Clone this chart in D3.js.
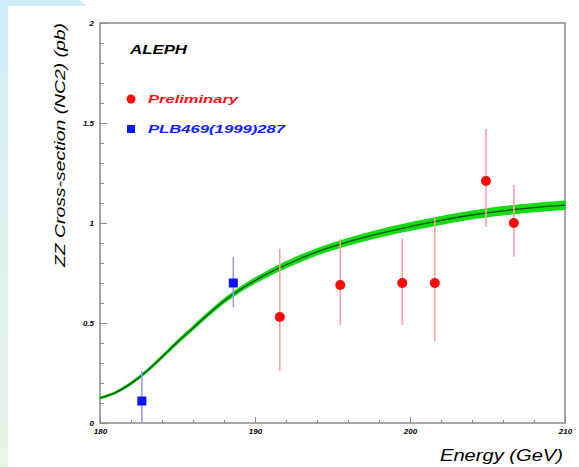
<!DOCTYPE html>
<html>
<head>
<meta charset="utf-8">
<script src="https://cdn.jsdelivr.net/npm/d3@7"></script>
<style>
  html, body { margin: 0; padding: 0; background: #ffffff; }
  svg { display: block; }
  text { font-family: "Liberation Sans", Arial, Helvetica, sans-serif; }
</style>
</head>
<body>
<svg id="chart" width="579" height="467"></svg>
<script>
// Axis ticks
const energyTicks = [180, 190, 200, 210];
const energyMinorTicks = [182, 184, 186, 188, 192, 194, 196, 198, 202, 204, 206, 208];
const xsecTicks = [0, 0.5, 1, 1.5, 2];
const xsecTickLabels = ["0", "0.5", "1", "1.5", "2"];
const xsecMinorTicks = [0.1, 0.2, 0.3, 0.4, 0.6, 0.7, 0.8, 0.9, 1.1, 1.2, 1.3, 1.4, 1.6, 1.7, 1.8, 1.9];

// Preliminary measurements (red)
const prelimEnergy = [191.6, 195.5, 199.5, 201.6, 204.9, 206.7];
const prelimXsec = [0.53, 0.69, 0.70, 0.70, 1.21, 1.00];
const prelimErrUp = [0.34, 0.23, 0.22, 0.33, 0.26, 0.19];
const prelimErrDown = [0.27, 0.20, 0.21, 0.29, 0.23, 0.17];

// Published measurements (blue)
const publishedEnergy = [182.7, 188.6];
const publishedXsec = [0.11, 0.70];
const publishedErrUp = [0.15, 0.13];
const publishedErrDown = [0.15, 0.12];

// Standard Model expectation with its uncertainty band
const curveEnergy = [180, 181, 182, 183, 184, 185, 186, 187, 188, 189, 190, 191, 192, 193, 194, 196, 198, 200, 202, 204, 206, 208, 210];
const curveXsec = [0.125, 0.152, 0.198, 0.258, 0.33, 0.405, 0.475, 0.545, 0.61, 0.665, 0.712, 0.754, 0.791, 0.825, 0.856, 0.906, 0.947, 0.982, 1.013, 1.040, 1.061, 1.077, 1.089];
const curveBand = [0.004, 0.004, 0.005, 0.005, 0.006, 0.007, 0.008, 0.009, 0.010, 0.011, 0.012, 0.013, 0.014, 0.015, 0.015, 0.016, 0.017, 0.018, 0.019, 0.019, 0.020, 0.020, 0.020];

const legendLabels = ["Preliminary", "PLB469(1999)287"];

const svg = d3.select("#chart");

// Decorative page border
const defs = svg.append("defs");
const grad = defs.append("linearGradient").attr("id", "edge").attr("x1", 0).attr("y1", 0).attr("x2", 0).attr("y2", 1);
grad.append("stop").attr("offset", "0%").attr("stop-color", "#cdedf8");
grad.append("stop").attr("offset", "100%").attr("stop-color", "#e8f5e6");
svg.append("path")
  .attr("d", "M0,0 L80,0 L87,6 L8,6 L8,467 L0,467 Z")
  .attr("fill", "url(#edge)");

const x = d3.scaleLinear().domain([180, 210]).range([100, 565]);
const y = d3.scaleLinear().domain([0, 2]).range([423, 23]);

const axisColor = "#8a8a8a";

// Plot frame
svg.append("rect")
  .attr("x", x(180)).attr("y", y(2))
  .attr("width", x(210) - x(180)).attr("height", y(0) - y(2))
  .attr("fill", "none").attr("stroke", axisColor).attr("stroke-width", 1.5);

// Axes with inward ticks
function styleAxis(g) {
  g.select(".domain").remove();
  g.selectAll(".tick line").attr("stroke", axisColor).attr("stroke-width", 1);
  g.selectAll(".tick text")
    .attr("fill", "#000")
    .style("font-size", "8px")
    .style("font-weight", "bold")
    .style("font-style", "italic");
}

svg.append("g")
  .attr("transform", `translate(0,${y(0)})`)
  .call(d3.axisBottom(x).tickValues(energyTicks).tickFormat(d3.format("d")).tickSize(-6).tickPadding(5))
  .call(styleAxis);
svg.append("g")
  .attr("transform", `translate(0,${y(0)})`)
  .call(d3.axisBottom(x).tickValues(energyMinorTicks).tickFormat("").tickSize(-3))
  .call(styleAxis);

svg.append("g")
  .attr("transform", `translate(${x(180)},0)`)
  .call(d3.axisLeft(y).tickValues(xsecTicks).tickFormat((d, i) => xsecTickLabels[i]).tickSize(-7).tickPadding(6))
  .call(styleAxis);
svg.append("g")
  .attr("transform", `translate(${x(180)},0)`)
  .call(d3.axisLeft(y).tickValues(xsecMinorTicks).tickFormat("").tickSize(-4))
  .call(styleAxis);

// Theory band and central curve
const curveData = curveEnergy.map((e, i) => ({ e, v: curveXsec[i], b: curveBand[i] }));
svg.append("path")
  .datum(curveData)
  .attr("d", d3.area().curve(d3.curveMonotoneX)
    .x(d => x(d.e)).y0(d => y(d.v - d.b)).y1(d => y(d.v + d.b)))
  .attr("fill", "#12dd12")
  .attr("stroke", "#12dd12")
  .attr("stroke-width", 1.4);
svg.append("path")
  .datum(curveData)
  .attr("d", d3.line().curve(d3.curveMonotoneX).x(d => x(d.e)).y(d => y(d.v)))
  .attr("fill", "none")
  .attr("stroke", "#0d4d0d")
  .attr("stroke-width", 1.3);

const clampY = v => y(Math.max(0, Math.min(2, v)));

// Published points: error bars and squares
const pub = publishedEnergy.map((e, i) => ({ e, v: publishedXsec[i], up: publishedErrUp[i], dn: publishedErrDown[i] }));
svg.append("g").selectAll("line").data(pub).join("line")
  .attr("x1", d => x(d.e)).attr("x2", d => x(d.e))
  .attr("y1", d => clampY(d.v + d.up)).attr("y2", d => clampY(d.v - d.dn))
  .attr("stroke", "#9a9aff").attr("stroke-width", 1.6);
svg.append("g").selectAll("rect").data(pub).join("rect")
  .attr("x", d => x(d.e) - 4.5).attr("y", d => y(d.v) - 4.5)
  .attr("width", 9).attr("height", 9)
  .attr("fill", "#0a14ff");

// Preliminary points: error bars and circles
const pre = prelimEnergy.map((e, i) => ({ e, v: prelimXsec[i], up: prelimErrUp[i], dn: prelimErrDown[i] }));
svg.append("g").selectAll("line").data(pre).join("line")
  .attr("x1", d => x(d.e)).attr("x2", d => x(d.e))
  .attr("y1", d => clampY(d.v + d.up)).attr("y2", d => clampY(d.v - d.dn))
  .attr("stroke", "#ffa0a0").attr("stroke-width", 1.6);
svg.append("g").selectAll("circle").data(pre).join("circle")
  .attr("cx", d => x(d.e)).attr("cy", d => y(d.v))
  .attr("r", 5)
  .attr("fill", "#ff0a0a");

// Experiment name and legend
svg.append("text")
  .attr("x", 130).attr("y", 54)
  .attr("textLength", 57).attr("lengthAdjust", "spacingAndGlyphs")
  .style("font-size", "12px").style("font-weight", "bold").style("font-style", "italic")
  .attr("fill", "#000")
  .text("ALEPH");

svg.append("circle").attr("cx", 131).attr("cy", 99).attr("r", 4.5).attr("fill", "#ff0a0a");
svg.append("text")
  .attr("x", 148).attr("y", 102.5)
  .attr("textLength", 90).attr("lengthAdjust", "spacingAndGlyphs")
  .style("font-size", "11px").style("font-weight", "bold").style("font-style", "italic")
  .attr("fill", "#ff1010")
  .text(legendLabels[0]);

svg.append("rect").attr("x", 127).attr("y", 125).attr("width", 8).attr("height", 8).attr("fill", "#0a14ff");
svg.append("text")
  .attr("x", 148).attr("y", 133)
  .attr("textLength", 137).attr("lengthAdjust", "spacingAndGlyphs")
  .style("font-size", "11px").style("font-weight", "bold").style("font-style", "italic")
  .attr("fill", "#1020ff")
  .text(legendLabels[1]);

// Axis titles
svg.append("text")
  .attr("transform", "translate(65,145) rotate(-90)")
  .attr("text-anchor", "middle")
  .attr("textLength", 244).attr("lengthAdjust", "spacingAndGlyphs")
  .style("font-size", "15px").style("font-style", "italic")
  .attr("fill", "#000")
  .text("ZZ Cross-section (NC2) (pb)");

svg.append("text")
  .attr("x", 563).attr("y", 461)
  .attr("text-anchor", "end")
  .attr("textLength", 123).attr("lengthAdjust", "spacingAndGlyphs")
  .style("font-size", "17px").style("font-style", "italic")
  .attr("fill", "#000")
  .text("Energy (GeV)");
</script>
</body>
</html>
